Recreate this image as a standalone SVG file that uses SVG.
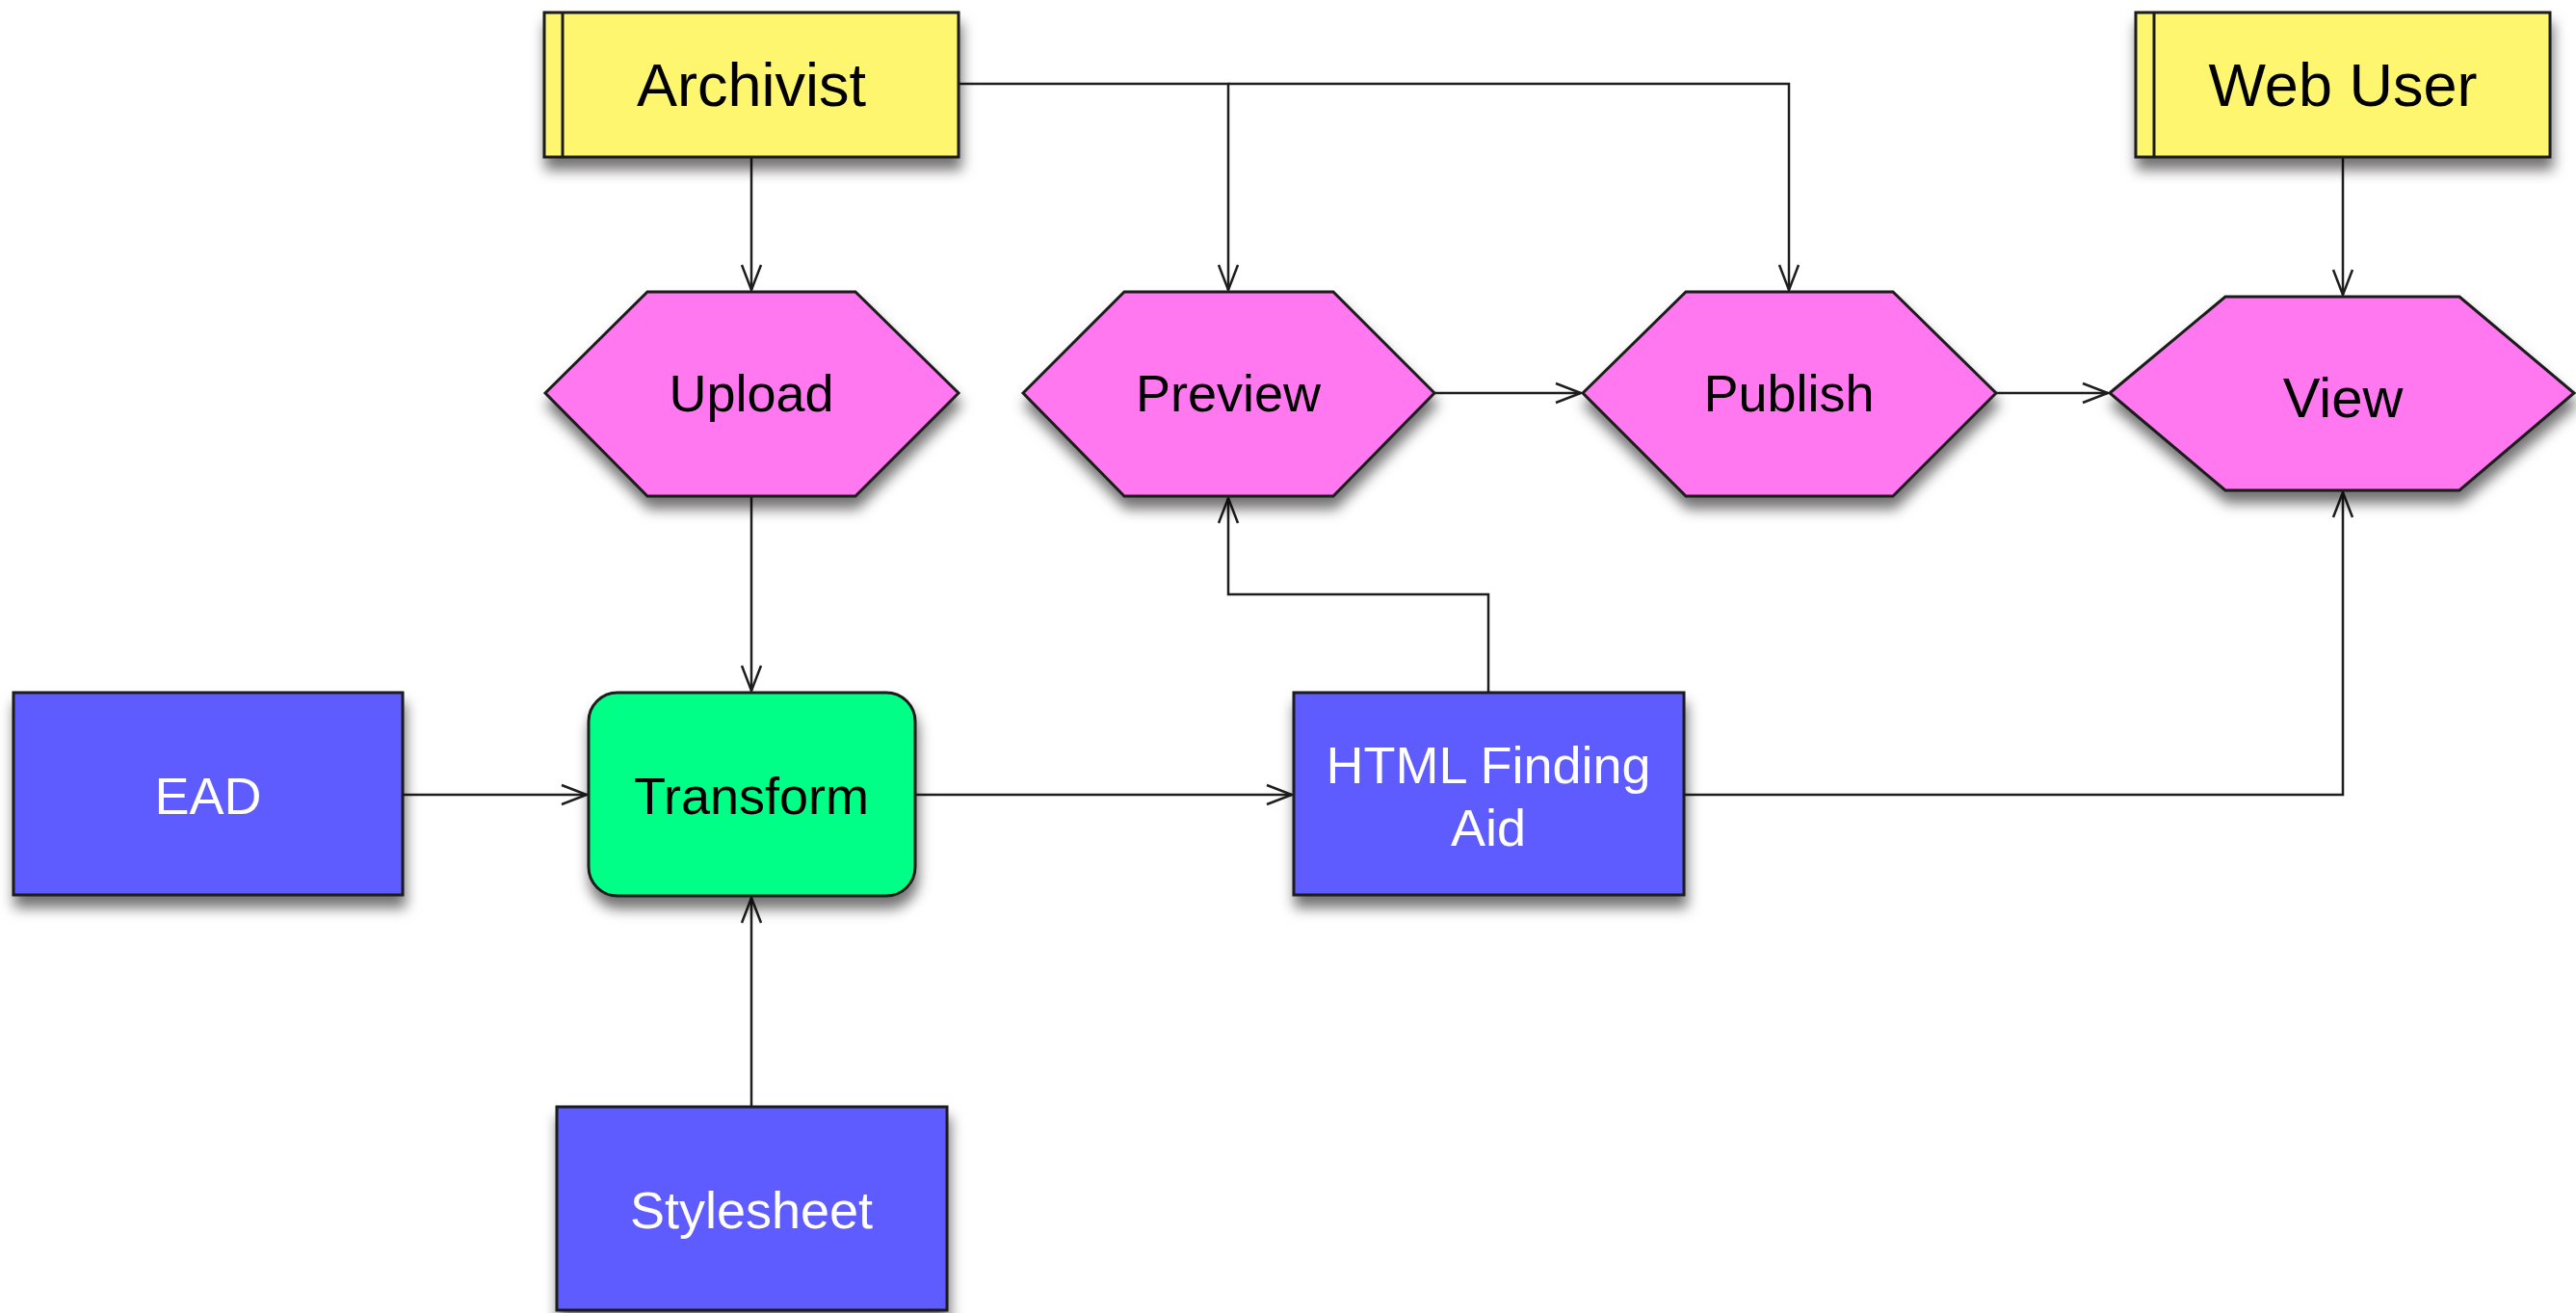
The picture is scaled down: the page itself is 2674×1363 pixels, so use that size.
<svg xmlns="http://www.w3.org/2000/svg" width="2674" height="1363" viewBox="0 0 2674 1363">
<style>
  .node { stroke: #1c1c1c; stroke-width: 3; filter: url(#shadow); }
  .actor { fill: #FFF670; }
  .proc { fill: #FF78F0; }
  .data { fill: #5F5BFF; }
  .xform { fill: #00FF86; }
  .edge { fill: none; stroke: #1e1e1e; stroke-width: 2.5; marker-end: url(#arrow); }
  .lbl { font-family: "Liberation Sans", Arial, Helvetica, sans-serif; text-anchor: middle; }
  .dark { fill: #000; }
  .light { fill: #fff; }
</style>
<defs>
  <filter id="shadow" x="-20%" y="-20%" width="140%" height="150%">
    <feDropShadow dx="2" dy="12" stdDeviation="7" flood-color="#000" flood-opacity="0.55"/>
  </filter>
  <marker id="arrow" markerUnits="userSpaceOnUse" markerWidth="40" markerHeight="30" viewBox="-30 -15 34 30" refX="0" refY="0" orient="auto">
    <path d="M-26,-10 L0,0 L-26,10" fill="none" stroke="#1e1e1e" stroke-width="2.5"/>
  </marker>
</defs>
<rect width="2674" height="1363" fill="#fff"/>

<g id="connectors">
  <path class="edge" d="M780,163 V301"/>
  <path class="edge" d="M995,87 H1275 V301"/>
  <path class="edge" d="M1275,87 H1857 V301"/>
  <path class="edge" d="M2432,163 V306"/>
  <path class="edge" d="M1489,408 H1641"/>
  <path class="edge" d="M2072,408 H2188"/>
  <path class="edge" d="M780,515 V717"/>
  <path class="edge" d="M418,825 H609"/>
  <path class="edge" d="M950,825 H1341"/>
  <path class="edge" d="M780,1149 V932"/>
  <path class="edge" d="M1545,718 V617 H1275 V517"/>
  <path class="edge" d="M1748,825 H2432 V511"/>
</g>

<g id="archivist">
  <rect class="node actor" x="565" y="13" width="430" height="150"/>
  <line x1="584" y1="13" x2="584" y2="163" stroke="#1c1c1c" stroke-width="3"/>
  <text class="lbl dark" x="780" y="110" font-size="63">Archivist</text>
</g>

<g id="webuser">
  <rect class="node actor" x="2217" y="13" width="430" height="150"/>
  <line x1="2236" y1="13" x2="2236" y2="163" stroke="#1c1c1c" stroke-width="3"/>
  <text class="lbl dark" x="2432" y="110" font-size="63">Web User</text>
</g>

<g id="upload">
  <polygon class="node proc" points="566,408 672,303 888,303 995,408 888,515 672,515"/>
  <text class="lbl dark" x="780" y="427" font-size="54">Upload</text>
</g>

<g id="preview">
  <polygon class="node proc" points="1062,408 1167,303 1384,303 1489,408 1384,515 1167,515"/>
  <text class="lbl dark" x="1275" y="427" font-size="54">Preview</text>
</g>

<g id="publish">
  <polygon class="node proc" points="1643,408 1750,303 1965,303 2072,408 1965,515 1750,515"/>
  <text class="lbl dark" x="1857" y="427" font-size="54">Publish</text>
</g>

<g id="view">
  <polygon class="node proc" points="2190,408 2310,308 2553,308 2672,408 2553,509 2310,509"/>
  <text class="lbl dark" x="2432" y="433" font-size="58">View</text>
</g>

<g id="ead">
  <rect class="node data" x="14" y="719" width="404" height="210"/>
  <text class="lbl light" x="216" y="845" font-size="54">EAD</text>
</g>

<g id="transform">
  <rect class="node xform" x="611" y="719" width="339" height="211" rx="30" ry="30"/>
  <text class="lbl dark" x="780" y="845" font-size="54">Transform</text>
</g>

<g id="html">
  <rect class="node data" x="1343" y="719" width="405" height="210"/>
  <text class="lbl light" x="1545" y="813" font-size="54">HTML Finding</text>
  <text class="lbl light" x="1545" y="878" font-size="54">Aid</text>
</g>

<g id="stylesheet">
  <rect class="node data" x="578" y="1149" width="405" height="211"/>
  <text class="lbl light" x="780" y="1275" font-size="54">Stylesheet</text>
</g>
</svg>
